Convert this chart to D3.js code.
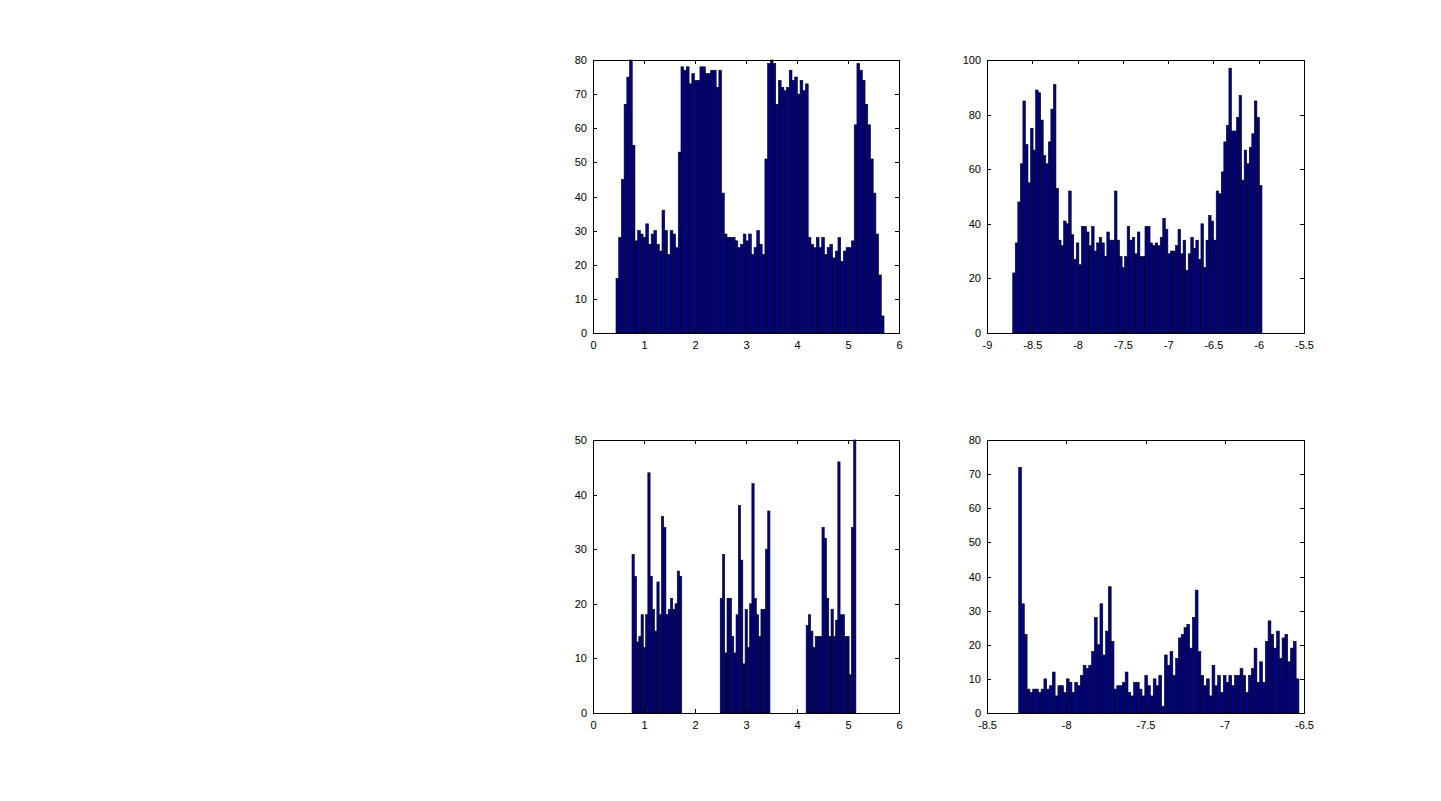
<!DOCTYPE html>
<html>
<head>
<meta charset="utf-8">
<script src="https://cdn.jsdelivr.net/npm/d3@7"></script>
<style>
  body { margin: 0; background: #fff; }
  svg text { font-family: "Liberation Sans", Arial, Helvetica, sans-serif; font-size: 11px; fill: #000; }
</style>
</head>
<body>
<svg id="fig" width="1441" height="801"></svg>
<script>
// histogram counts
const countsTL = [16,28,45,67,75,80,55,27,30,29,28,32,26,29,30,26,24,36,30,23,30,29,25,53,
  78,77,78,73,76,74,74,78,78,76,76,77,77,72,77,41,29,28,28,28,27,25,26,29,27,29,
  23,25,30,26,23,51,79,80,79,67,74,72,71,72,77,74,75,70,74,71,73,28,26,25,28,25,28,23,25,26,
  22,24,28,21,24,25,25,27,61,79,77,74,67,61,51,41,29,17,5];
const countsTR = [22,33,48,62,85,69,55,75,67,89,88,78,65,62,70,82,91,53,34,32,41,40,52,36,27,
  33,25,39,39,37,32,39,30,33,35,33,28,37,34,34,52,34,28,24,28,39,34,35,29,
  37,28,28,39,39,33,32,33,32,35,42,38,29,30,30,32,38,29,34,23,29,35,31,34,27,40,24,34,43,41,
  34,52,51,59,70,76,97,74,74,79,87,56,67,62,68,73,85,79,54];
const countsBL = [29,25,13,14,18,12,18,44,25,19,15,24,18,36,34,18,19,21,19,20,26,25,
  0,0,0,0,0,0,0,0,0,0,0,0,0,0,0,0,0,
  21,29,11,21,21,14,11,18,38,28,9,19,12,20,42,21,18,14,19,19,30,37,
  0,0,0,0,0,0,0,0,0,0,0,0,0,0,0,0,
  16,18,15,12,14,14,14,34,32,21,14,19,14,17,46,18,18,14,14,7,34,50];
const countsBR = [72,32,23,7,6,7,7,6,7,10,7,8,12,5,8,8,6,10,9,6,9,8,11,14,13,14,18,28,20,32,
  17,24,37,21,7,8,8,9,12,6,5,9,9,7,5,11,8,5,10,8,
  11,2,17,14,18,11,16,22,23,25,26,19,28,36,18,11,8,10,5,14,8,11,6,11,9,11,8,11,11,13,
  11,6,11,13,19,9,15,9,21,27,23,19,24,16,22,23,15,19,21,10];

// data extent covered by the bins (first left edge, last right edge)
const rangeTL = [0.451, 5.706];
const rangeTR = [-8.716, -5.964];
const rangeBL = [0.765, 5.155];
const rangeBR = [-8.300, -6.532];

// axis limits and tick labels
const xTicksTL = [0,1,2,3,4,5,6];
const yTicksTL = [0,10,20,30,40,50,60,70,80];
const xTicksTR = [-9,-8.5,-8,-7.5,-7,-6.5,-6,-5.5];
const yTicksTR = [0,20,40,60,80,100];
const xTicksBL = [0,1,2,3,4,5,6];
const yTicksBL = [0,10,20,30,40,50];
const xTicksBR = [-8.5,-8,-7.5,-7,-6.5];
const yTicksBR = [0,10,20,30,40,50,60,70,80];

const svg = d3.select("#fig");

const panels = [
  { box: {left: 593, top: 60, w: 306, h: 273}, counts: countsTL, range: rangeTL,
    xTicks: xTicksTL, yTicks: yTicksTL },
  { box: {left: 987, top: 60, w: 317, h: 273}, counts: countsTR, range: rangeTR,
    xTicks: xTicksTR, yTicks: yTicksTR },
  { box: {left: 593, top: 440, w: 306, h: 273}, counts: countsBL, range: rangeBL,
    xTicks: xTicksBL, yTicks: yTicksBL },
  { box: {left: 987, top: 440, w: 317, h: 273}, counts: countsBR, range: rangeBR,
    xTicks: xTicksBR, yTicks: yTicksBR },
];

// plain hyphen minus, like matlab prints it
const fmt = d => String(d);

function drawPanel(p){
  const b = p.box;
  const g = svg.append("g").attr("transform", `translate(${b.left},${b.top})`);

  const x = d3.scaleLinear()
    .domain(d3.extent(p.xTicks))
    .range([0, b.w]);
  const y = d3.scaleLinear()
    .domain(d3.extent(p.yTicks))
    .range([b.h, 0]);

  const binW = (p.range[1] - p.range[0]) / p.counts.length;

  g.append("g").selectAll("rect")
    .data(p.counts)
    .join("rect")
    .attr("x", (d, i) => x(p.range[0] + i * binW))
    .attr("width", (d, i) => x(p.range[0] + (i + 1) * binW) - x(p.range[0] + i * binW))
    .attr("y", d => y(d))
    .attr("height", d => y(0) - y(d))
    .attr("fill", "#00008f")
    .attr("stroke", "#000")
    .attr("stroke-width", 0.6);

  // matlab style: ticks point inward, mirrored on top and right
  const tick = 4;
  const styleAxis = sel => {
    sel.select(".domain").remove();
    sel.selectAll(".tick line").attr("stroke", "#000").attr("shape-rendering", "crispEdges");
    sel.attr("font-size", null).attr("font-family", null);
  };

  g.append("g")
    .attr("transform", `translate(0,${b.h})`)
    .call(d3.axisBottom(x).tickValues(p.xTicks).tickFormat(fmt).tickSizeInner(-tick).tickSizeOuter(0).tickPadding(8))
    .call(styleAxis);

  g.append("g")
    .call(d3.axisLeft(y).tickValues(p.yTicks).tickFormat(fmt).tickSizeInner(-tick).tickSizeOuter(0).tickPadding(6))
    .call(styleAxis);

  g.append("g")
    .call(d3.axisTop(x).tickValues(p.xTicks).tickFormat("").tickSizeInner(-tick).tickSizeOuter(0))
    .call(styleAxis);

  g.append("g")
    .attr("transform", `translate(${b.w},0)`)
    .call(d3.axisRight(y).tickValues(p.yTicks).tickFormat("").tickSizeInner(-tick).tickSizeOuter(0))
    .call(styleAxis);

  g.append("rect")
    .attr("width", b.w)
    .attr("height", b.h)
    .attr("fill", "none")
    .attr("stroke", "#000")
    .attr("stroke-width", 1)
    .attr("shape-rendering", "crispEdges");
}

panels.forEach(drawPanel);
</script>
</body>
</html>
